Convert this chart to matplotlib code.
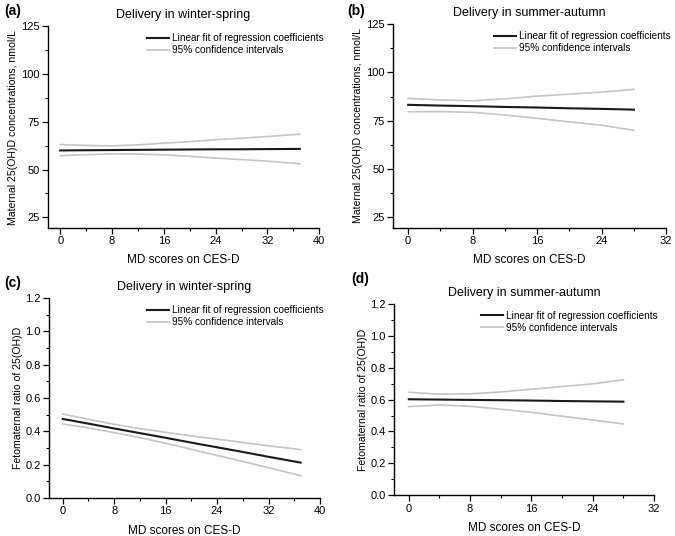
import matplotlib
matplotlib.use('Agg')
import matplotlib.pyplot as plt
from matplotlib.ticker import MultipleLocator

plt.rcParams['font.family'] = ['Liberation Sans', 'DejaVu Sans']

# (a) maternal 25(OH)D, winter-spring
a_x = [0, 4, 8, 12, 16, 20, 24, 28, 32, 37]
a_fit = [60.0, 60.1, 60.2, 60.3, 60.4, 60.5, 60.6, 60.6, 60.7, 60.8]
a_up = [63.1, 62.6, 62.4, 62.9, 63.8, 64.6, 65.6, 66.4, 67.3, 68.5]
a_lo = [57.2, 57.8, 58.2, 58.1, 57.7, 56.9, 56.0, 55.2, 54.4, 53.0]

# (b) maternal 25(OH)D, summer-autumn
b_x = [0, 4, 8, 12, 16, 20, 24, 28]
b_fit = [83.2, 82.8, 82.5, 82.1, 81.8, 81.4, 81.1, 80.7]
b_up = [86.5, 85.7, 85.3, 86.3, 87.7, 88.7, 89.8, 91.2]
b_lo = [79.6, 79.7, 79.3, 77.9, 76.2, 74.4, 72.6, 70.0]

# (c) fetomaternal ratio, winter-spring
c_x = [0, 4, 8, 12, 16, 20, 24, 28, 32, 37]
c_fit = [0.474, 0.446, 0.417, 0.389, 0.361, 0.332, 0.304, 0.276, 0.247, 0.212]
c_up = [0.504, 0.472, 0.442, 0.416, 0.394, 0.372, 0.353, 0.333, 0.313, 0.290]
c_lo = [0.444, 0.420, 0.392, 0.362, 0.328, 0.292, 0.255, 0.219, 0.181, 0.134]

# (d) fetomaternal ratio, summer-autumn
d_x = [0, 4, 8, 12, 16, 20, 24, 28]
d_fit = [0.602, 0.600, 0.598, 0.596, 0.594, 0.591, 0.589, 0.587]
d_up = [0.646, 0.634, 0.636, 0.648, 0.665, 0.682, 0.699, 0.724]
d_lo = [0.556, 0.566, 0.558, 0.540, 0.520, 0.496, 0.472, 0.447]

panels = [
    ('(a)', 'Delivery in winter-spring', a_x, a_fit, a_up, a_lo,
     [0.071, 0.575, 0.402, 0.376], (-1.9, 40), (19.5, 125), 25,
     'Maternal 25(OH)D concentrations, nmol/L', (0.007, 0.972)),
    ('(b)', 'Delivery in summer-autumn', b_x, b_fit, b_up, b_lo,
     [0.582, 0.575, 0.405, 0.380], (-1.9, 32), (19.5, 125), 25,
     'Maternal 25(OH)D concentrations, nmol/L', (0.514, 0.972)),
    ('(c)', 'Delivery in winter-spring', c_x, c_fit, c_up, c_lo,
     [0.073, 0.071, 0.401, 0.373], (-2.1, 40), (0, 1.2), 0.2,
     'Fetomaternal ratio of 25(OH)D', (0.007, 0.465)),
    ('(d)', 'Delivery in summer-autumn', d_x, d_fit, d_up, d_lo,
     [0.584, 0.076, 0.385, 0.357], (-1.9, 32), (0, 1.2), 0.2,
     'Fetomaternal ratio of 25(OH)D', (0.520, 0.472)),
]

fig = plt.figure(figsize=(6.75, 5.36), dpi=100)
for tag, title, x, fit, up, lo, pos, xl, yl, ystep, ylab, tagpos in panels:
    ax = fig.add_axes(pos)
    ax.plot(x, fit, color='#1a1a1a', lw=1.5, label='Linear fit of regression coefficients')
    ax.plot(x, up, color='#c4c4c4', lw=1.2, label='95% confidence intervals')
    ax.plot(x, lo, color='#c4c4c4', lw=1.2)
    ax.set_xlim(*xl)
    ax.set_ylim(*yl)
    ax.xaxis.set_major_locator(MultipleLocator(8))
    ax.xaxis.set_minor_locator(MultipleLocator(4))
    ax.yaxis.set_major_locator(MultipleLocator(ystep))
    ax.yaxis.set_minor_locator(MultipleLocator(ystep / 2))
    if ystep < 1:
        ax.yaxis.set_major_formatter(plt.FormatStrFormatter('%.1f'))
    for s in ['top', 'right']:
        ax.spines[s].set_visible(False)
    for s in ['left', 'bottom']:
        ax.spines[s].set_linewidth(1.0)
    ax.tick_params(which='major', length=4, width=0.9, labelsize=8, pad=2, direction='out')
    ax.tick_params(which='minor', length=2, width=0.8, direction='out')
    ax.set_xlabel('MD scores on CES-D', fontsize=8.5, labelpad=6)
    ax.set_ylabel(ylab, fontsize=7.6, labelpad=2)
    ax.set_title(title, fontsize=9, pad=6)
    ax.legend(loc='upper right', bbox_to_anchor=(1.03, 0.985), frameon=False,
              fontsize=7.2, handlelength=2.2, handletextpad=0.3,
              labelspacing=0.2, borderaxespad=0.0)
    fig.text(tagpos[0], tagpos[1], tag, fontsize=10, fontweight='bold')

fig.savefig('out.png', dpi=100)
